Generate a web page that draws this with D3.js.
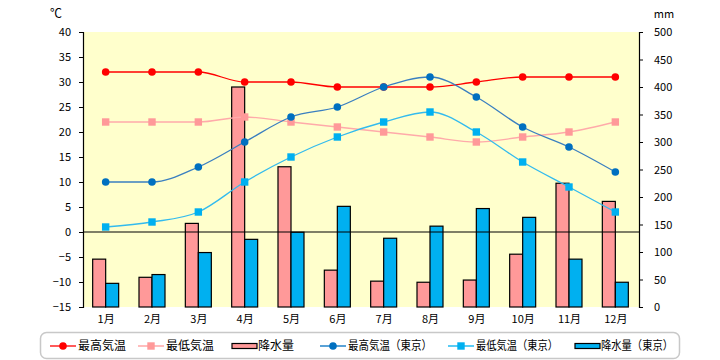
<!DOCTYPE html>
<html><head><meta charset="utf-8">
<script src="https://cdn.jsdelivr.net/npm/d3@7"></script>
<style>
body{margin:0;background:#fff;}
text{font-family:"Noto Sans CJK JP","DejaVu Sans",sans-serif;}
</style></head>
<body><svg id="c" width="720" height="360"></svg>
<script>
const months = ["1月","2月","3月","4月","5月","6月","7月","8月","9月","10月","11月","12月"];
const maxTemp = [32,32,32,30,30,29,29,29,30,31,31,31];
const minTemp = [22,22,22,23,22,21,20,19,18,19,20,22];
const precip = [87,54,152,400,255,67,47,45,49,96,225,192];
const maxTempTokyo = [10,10,13,18,23,25,29,31,27,21,17,12];
const minTempTokyo = [1,2,4,10,15,19,22,24,20,14,9,4];
const precipTokyo = [43,59,99,123,136,183,125,147,179,163,87,45];
const tempTicks = [-15,-10,-5,0,5,10,15,20,25,30,35,40];
const precipTicks = [0,50,100,150,200,250,300,350,400,450,500];
const legendLabels = ["最高気温","最低気温","降水量","最高気温（東京）","最低気温（東京）","降水量（東京）"];

const svg = d3.select("#c");
const L=83, R=639, T=32, B=307;
const x = d3.scaleBand().domain(months).range([L,R]);
const yT = d3.scaleLinear().domain([-15,40]).range([B,T]);
const yP = d3.scaleLinear().domain([0,500]).range([B,T]);
const cx = m => x(m)+x.bandwidth()/2 - 0.5;

svg.append("rect").attr("x",L).attr("y",T).attr("width",R-L).attr("height",B-T).attr("fill","#ffffcc");

const bw = 13;
const barSeries = [
  {vals:precip, fill:"#ff9999", off:-bw},
  {vals:precipTokyo, fill:"#00b0f0", off:0}
];
barSeries.forEach(s=>{
  svg.append("g").selectAll("rect").data(months).join("rect")
    .attr("x",(m)=>cx(m)+s.off)
    .attr("y",(m,i)=>yP(s.vals[i]))
    .attr("width",bw)
    .attr("height",(m,i)=>yP(0)-yP(s.vals[i]))
    .attr("fill",s.fill).attr("stroke","#000").attr("stroke-width",1.2);
});

svg.append("line").attr("x1",L).attr("x2",R).attr("y1",yT(0)).attr("y2",yT(0)).attr("stroke","#000").attr("stroke-width",1.2);

const lineSeries = [
  {vals:maxTemp, color:"#ff0000", lc:"#ff0000", shape:"circle"},
  {vals:minTemp, color:"#ff9999", lc:"#ffaaaa", shape:"square"},
  {vals:maxTempTokyo, color:"#0070c0", lc:"#3a7fc0", shape:"circle"},
  {vals:minTempTokyo, color:"#00b0f0", lc:"#33bbee", shape:"square"}
];
lineSeries.forEach(s=>{
  const line = d3.line().x((d,i)=>cx(months[i])).y(d=>yT(d)).curve(d3.curveMonotoneX);
  svg.append("path").attr("d",line(s.vals)).attr("fill","none").attr("stroke",s.lc).attr("stroke-width",1.3);
  const g = svg.append("g");
  if(s.shape==="circle"){
    g.selectAll("circle").data(s.vals).join("circle")
      .attr("cx",(d,i)=>cx(months[i])).attr("cy",d=>yT(d)).attr("r",3.8).attr("fill",s.color);
  } else {
    g.selectAll("rect").data(s.vals).join("rect")
      .attr("x",(d,i)=>cx(months[i])-3.7).attr("y",d=>yT(d)-3.7).attr("width",7.4).attr("height",7.4).attr("fill",s.color);
  }
});

// axes
const axL = svg.append("g").attr("transform",`translate(${L},0)`)
  .call(d3.axisLeft(yT).tickValues(tempTicks).tickSize(4).tickFormat(d=>d<0?"\u2212"+Math.abs(d):d));
const axR = svg.append("g").attr("transform",`translate(${R},0)`)
  .call(d3.axisRight(yP).tickValues(precipTicks).tickSize(4));
[axL,axR].forEach(a=>{
  a.select(".domain").attr("stroke","#000").attr("stroke-width",1.2);
  a.selectAll(".tick line").attr("stroke","#000");
  a.selectAll("text").attr("font-size",11).attr("fill","#000").attr("font-family","'Liberation Sans',sans-serif");
});
axL.selectAll("text").attr("x",-12);
axR.selectAll("text").attr("x",15);

const axB = svg.append("g").attr("transform",`translate(0,${B})`)
  .call(d3.axisBottom(x).tickSize(0).tickPadding(8));
axB.select(".domain").remove();
axB.selectAll("text").attr("font-size",11).attr("fill","#000");

svg.append("text").attr("x",56).attr("y",18).attr("text-anchor","middle").attr("font-size",12).text("℃");
svg.append("text").attr("x",664).attr("y",18).attr("text-anchor","middle").attr("font-size",11).attr("font-family","'Liberation Sans',sans-serif").text("mm");

// legend
svg.append("rect").attr("x",40.5).attr("y",332.5).attr("width",639).attr("height",26).attr("rx",6)
  .attr("fill","#fff").attr("stroke","#c8c8c8").attr("stroke-width",1.5);
const lx = [50,138,231,320,448,574];
const tl = [null,null,null,84,82,72];
const ly = 346;
const types = [
  {k:"line",s:lineSeries[0]},{k:"line",s:lineSeries[1]},{k:"bar",s:barSeries[0]},
  {k:"line",s:lineSeries[2]},{k:"line",s:lineSeries[3]},{k:"bar",s:barSeries[1]}
];
types.forEach((t,i)=>{
  const g = svg.append("g").attr("transform",`translate(${lx[i]},${ly})`);
  if(t.k==="line"){
    g.append("line").attr("x1",0).attr("x2",26).attr("y1",0).attr("y2",0).attr("stroke",t.s.color).attr("stroke-width",1.3);
    if(t.s.shape==="circle") g.append("circle").attr("cx",13).attr("cy",0).attr("r",3.8).attr("fill",t.s.color);
    else g.append("rect").attr("x",9.3).attr("y",-3.7).attr("width",7.4).attr("height",7.4).attr("fill",t.s.color);
  } else {
    g.append("rect").attr("x",1).attr("y",-2.5).attr("width",25).attr("height",5).attr("fill",t.s.fill).attr("stroke","#000").attr("stroke-width",1.2);
  }
  const tx = g.append("text").attr("x",t.k==="line"?28:27).attr("y",0).attr("dy","0.36em").attr("font-size",12).text(legendLabels[i]);
  if(tl[i]) tx.attr("textLength",tl[i]).attr("lengthAdjust","spacingAndGlyphs");
});
</script></body></html>
